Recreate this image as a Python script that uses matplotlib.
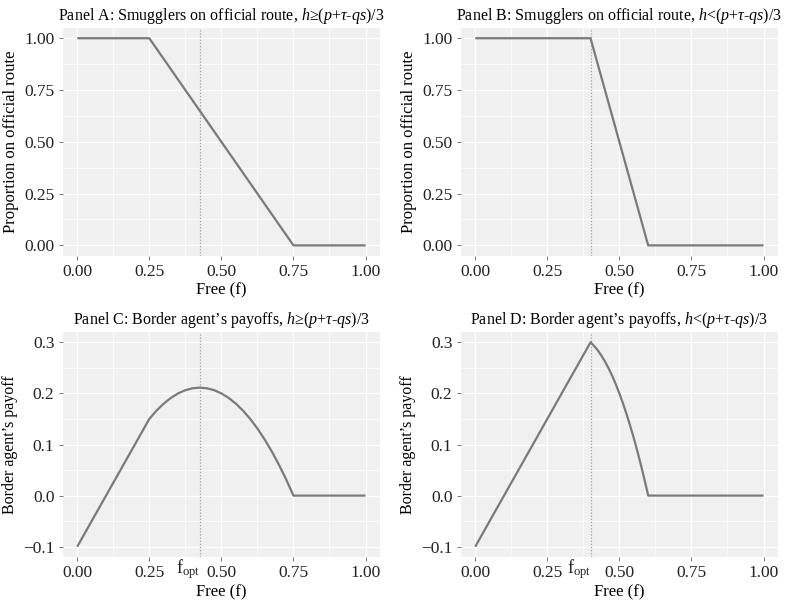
import matplotlib.pyplot as plt
import numpy as np

plt.rcParams["font.family"] = ["Liberation Serif", "DejaVu Serif"]
plt.rcParams["mathtext.fontset"] = "custom"
plt.rcParams["mathtext.rm"] = "Liberation Serif"
plt.rcParams["mathtext.it"] = "Liberation Serif:italic"

# Datos
free_a = [0.00, 0.25, 0.75, 1.00]
share_a = [1.00, 1.00, 0.00, 0.00]

free_b = [0.00, 0.40, 0.60, 1.00]
share_b = [1.00, 1.00, 0.00, 0.00]

free_c = [0.00, 0.25, 0.275, 0.30, 0.325, 0.35, 0.375, 0.40, 0.425, 0.45, 0.475,
          0.50, 0.525, 0.55, 0.575, 0.60, 0.625, 0.65, 0.675, 0.70, 0.725, 0.75, 1.00]
payoff_c = [-0.10, 0.1500, 0.1663, 0.1800, 0.1913, 0.2000, 0.2063, 0.2100, 0.2113, 0.2100, 0.2063,
            0.2000, 0.1913, 0.1800, 0.1663, 0.1500, 0.1313, 0.1100, 0.0863, 0.0600, 0.0313, 0.00, 0.00]

free_d = [0.00, 0.40, 0.4125, 0.425, 0.4375, 0.45, 0.4625, 0.475, 0.4875, 0.50,
          0.5125, 0.525, 0.5375, 0.55, 0.5625, 0.575, 0.5875, 0.60, 1.00]
payoff_d = [-0.10, 0.3000, 0.2930, 0.2844, 0.2742, 0.2625, 0.2492, 0.2344, 0.2180, 0.2000,
            0.1805, 0.1594, 0.1367, 0.1125, 0.0867, 0.0594, 0.0305, 0.00, 0.00]

fopt_c = 0.425
fopt_d = 0.40

x_ticks = [0.00, 0.25, 0.50, 0.75, 1.00]
x_labels = ["0.00", "0.25", "0.50", "0.75", "1.00"]
share_ticks = [0.00, 0.25, 0.50, 0.75, 1.00]
share_labels = ["0.00", "0.25", "0.50", "0.75", "1.00"]
payoff_ticks = [-0.1, 0.0, 0.1, 0.2, 0.3]
payoff_labels = ["\u22120.1", "0.0", "0.1", "0.2", "0.3"]

cond_ge = r"$h$" + "\u2265" + r"$(p{+}\tau$-$qs)/3$"
cond_lt = r"$h$" + "<" + r"$(p{+}\tau$-$qs)/3$"

fig = plt.figure(figsize=(7.85, 6.06), dpi=100)
ax_a = fig.add_axes([0.080, 0.578, 0.404, 0.376])
ax_b = fig.add_axes([0.587, 0.578, 0.404, 0.376])
ax_c = fig.add_axes([0.080, 0.081, 0.404, 0.371])
ax_d = fig.add_axes([0.587, 0.081, 0.404, 0.371])

panels = [
    (ax_a, free_a, share_a, fopt_c, "Panel A: Smugglers on official route, " + cond_ge, "Proportion on official route", False),
    (ax_b, free_b, share_b, fopt_d, "Panel B: Smugglers on official route, " + cond_lt, "Proportion on official route", False),
    (ax_c, free_c, payoff_c, fopt_c, "Panel C: Border agent\u2019s payoffs, " + cond_ge, "Border agent\u2019s payoff", True),
    (ax_d, free_d, payoff_d, fopt_d, "Panel D: Border agent\u2019s payoffs, " + cond_lt, "Border agent\u2019s payoff", True),
]

for ax, xs, ys, fopt, titulo, ylab, es_pago in panels:
    ax.set_facecolor("#F0F0F0")
    for s in ax.spines.values():
        s.set_visible(False)

    ax.set_xlim(-0.05, 1.05)
    ax.set_xticks(x_ticks)
    ax.set_xticklabels(x_labels)
    ax.set_xticks([0.125, 0.375, 0.625, 0.875], minor=True)
    if es_pago:
        ax.set_ylim(-0.12, 0.32)
        ax.set_yticks(payoff_ticks)
        ax.set_yticklabels(payoff_labels)
        ax.set_yticks([-0.05, 0.05, 0.15, 0.25], minor=True)
    else:
        ax.set_ylim(-0.05, 1.05)
        ax.set_yticks(share_ticks)
        ax.set_yticklabels(share_labels)
        ax.set_yticks([0.125, 0.375, 0.625, 0.875], minor=True)

    ax.grid(which="major", color="white", linewidth=1.0)
    ax.grid(which="minor", color="white", linewidth=0.5)
    ax.set_axisbelow(True)
    ax.tick_params(which="major", length=3, width=0.7, color="#777777", labelsize=12.5, pad=3, labelcolor="#222222")
    ax.tick_params(which="minor", length=0)

    ax.axvline(fopt, color="#A0A0A0", linestyle=(0, (1, 1.5)), linewidth=0.9)
    ax.plot(xs, ys, color="#7A7A7A", linewidth=1.6, solid_capstyle="butt")

    ax.set_title(titulo, fontsize=11.5, pad=6)
    ax.set_xlabel("Free (f)", fontsize=12, labelpad=2)
    ax.set_ylabel(ylab, fontsize=12 if not es_pago else 11.5, labelpad=4)

    if es_pago:
        ax.text(fopt + 0.002, -0.121, r"$\mathrm{f}_{\mathrm{opt}}$", fontsize=13,
                ha="right", va="top", color="#222222")

fig.savefig("out.png", dpi=100)
